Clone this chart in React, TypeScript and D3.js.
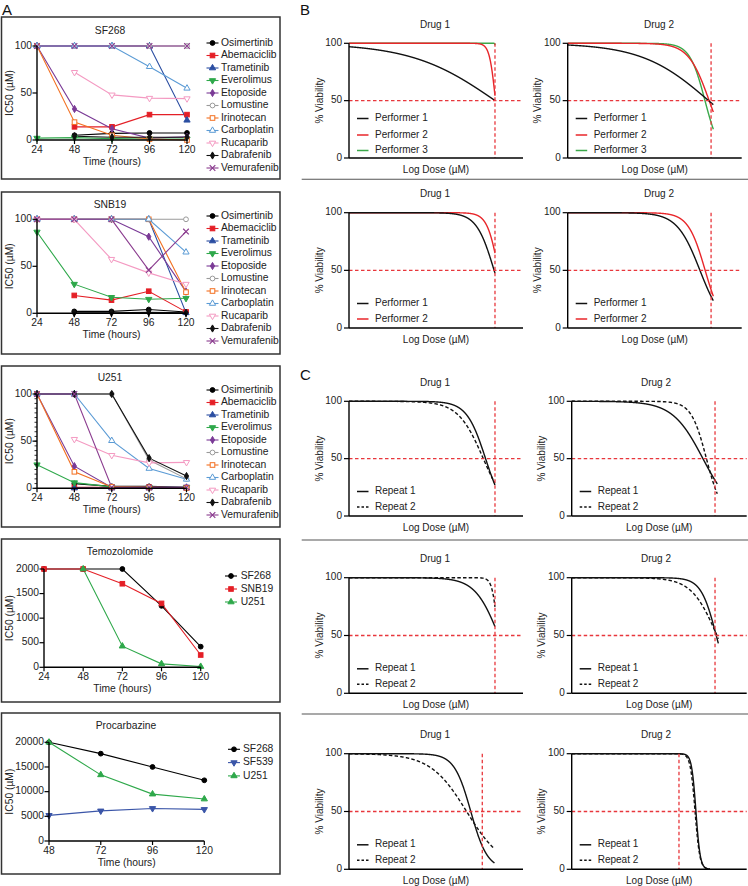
import React from 'react';
import * as d3 from 'd3';

const FONT = "'Liberation Sans', Arial, Helvetica, sans-serif";

// ---------------- Panel A data ----------------
const hours = [24, 48, 72, 96, 120];
const drugNames = ['Osimertinib', 'Abemaciclib', 'Trametinib', 'Everolimus', 'Etoposide', 'Lomustine', 'Irinotecan', 'Carboplatin', 'Rucaparib', 'Dabrafenib', 'Vemurafenib'];

const sf268IC50: (number | null)[][] = [
  [null, 5, 7, 7.5, 7.5],
  [null, 14, 14, 27, 27],
  [100, 100, 100, 100, 21],
  [2, 2.5, 1.5, 1, 1],
  [100, 33, 12, 2, 3.5],
  [100, 100, 100, 100, 100],
  [100, 19, 5, 1, 0],
  [100, 100, 100, 78, 55],
  [null, 72, 48, 44.5, 44],
  [null, 4, 3, 3, 3],
  [100, 100, 100, 100, 100],
];
const snb19IC50: (number | null)[][] = [
  [null, 2, 2, 4, 1.4],
  [null, 19, 14, 23.5, 1.5],
  [100, 100, 100, 100, 0.5],
  [86.5, 31, 17, 15, 16],
  [100, 100, 100, 81.5, 23],
  [100, 100, 100, 100, 100],
  [100, 100, 100, 100, 22.5],
  [100, 100, 100, 100, 65],
  [100, 100, 57.5, 43, 31],
  [null, 0.5, 0.5, 1, 0.5],
  [100, 100, 100, 46, 87],
];
const u251IC50: (number | null)[][] = [
  [null, 5, 2, 2, 1],
  [null, 1, 1, 1, 0.5],
  [null, 0.3, 0.3, 0.3, 0.3],
  [25, 6, 1.5, 1, 1],
  [100, 23.5, 1, 1, 1],
  [100, 100, 100, 30, 10],
  [100, 17.5, 1.5, 1, 0.5],
  [100, 100, 50.5, 21, 9.5],
  [null, 52, 35, 27, 27.5],
  [100, 100, 100, 32, 13],
  [100, 100, 1, 1, 1],
];

const temoCells = ['SF268', 'SNB19', 'U251'];
const temoIC50: (number | null)[][] = [
  [2000, 2000, 2000, 1250, 420],
  [2000, 2000, 1700, 1300, 250],
  [null, 2000, 430, 70, 15],
];

const procHours = [48, 72, 96, 120];
const procCells = ['SF268', 'SF539', 'U251'];
const procIC50: (number | null)[][] = [
  [20000, 17700, 15000, 12300],
  [5200, 6100, 6600, 6400],
  [20000, 13400, 9500, 8500],
];

// ---------------- Panel B / C data (fitted curve parameters, log-dose units 0-10) ----------------
const performerLabels = ['Performer 1', 'Performer 2', 'Performer 3'];
const repeatLabels = ['Repeat 1', 'Repeat 2'];

const bRow1Drug1LogIC50 = [8.4, 8.42, 8.45];
const bRow1Drug1Hill = [0.18, 2.5, 30];
const bRow1Drug2LogIC50 = [8.1, 8.13, 7.89];
const bRow1Drug2Hill = [0.225, 0.73, 0.99];
const bRow2Drug1LogIC50 = [8.34, 8.59];
const bRow2Drug1Hill = [0.86, 1.34];
const bRow2Drug2LogIC50 = [7.6, 7.9];
const bRow2Drug2Hill = [0.66, 0.89];
const cRow1Drug1LogIC50 = [7.85, 7.72];
const cRow1Drug1Hill = [0.8, 0.6];
const cRow1Drug2LogIC50 = [7.5, 7.7];
const cRow1Drug2Hill = [0.5, 1.0];
const cRow2Drug1LogIC50 = [8.6, 8.56];
const cRow2Drug1Hill = [0.64, 2.77];
const cRow2Drug2LogIC50 = [8.26, 8.3];
const cRow2Drug2Hill = [1.0, 0.6];
const cRow3Drug1LogIC50 = [7.0, 6.76];
const cRow3Drug1Hill = [0.91, 0.417];
const cRow3Drug2LogIC50 = [7.1, 7.05];
const cRow3Drug2Hill = [3.5, 3.2];

// highest dose tested (curve end) and marked IC50 dose (vertical line)
const bRow1MaxDose = [8.39, 8.37];
const bRow1Cutoff = [8.39, 8.24];
const bRow2MaxDose = [8.39, 8.37];
const bRow2Cutoff = [8.39, 8.24];
const cRow1MaxDose = [8.39, 8.32];
const cRow1Cutoff = [8.39, 8.19];
const cRow2MaxDose = [8.39, 8.38];
const cRow2Cutoff = [8.39, 8.19];
const cRow3MaxDose = [8.36, 7.9];
const cRow3Cutoff = [7.66, 6.13];

// ---------------- styles ----------------
type MStyle = { color: string; shape: string; open?: boolean };
const drugStyles: MStyle[] = [
  { color: '#000000', shape: 'circle' },
  { color: '#e41f26', shape: 'square' },
  { color: '#2b4ea2', shape: 'triUp' },
  { color: '#2ea84a', shape: 'triDown' },
  { color: '#7a3a96', shape: 'diamond' },
  { color: '#9a9a9a', shape: 'circle', open: true },
  { color: '#f37021', shape: 'square', open: true },
  { color: '#5b9bd5', shape: 'triUp', open: true },
  { color: '#f49ac2', shape: 'triDown', open: true },
  { color: '#111111', shape: 'diamond' },
  { color: '#8b3c8f', shape: 'x' },
];
const temoStyles: MStyle[] = [
  { color: '#000000', shape: 'circle' },
  { color: '#e41f26', shape: 'square' },
  { color: '#2ea84a', shape: 'triUp' },
];
const procStyles: MStyle[] = [
  { color: '#000000', shape: 'circle' },
  { color: '#3a55a8', shape: 'triDown' },
  { color: '#2ea84a', shape: 'triUp' },
];

const triPath = d3.symbol().type(d3.symbolTriangle).size(17)() as string;
const diaPath = d3.symbol().type(d3.symbolDiamond).size(15)() as string;

function Marker({ s, x, y }: { s: MStyle; x: number; y: number }) {
  const fill = s.open ? '#ffffff' : s.color;
  const sw = 1;
  switch (s.shape) {
    case 'circle':
      return <circle cx={x} cy={y} r={2.4} fill={fill} stroke={s.color} strokeWidth={sw} />;
    case 'square':
      return <rect x={x - 2.3} y={y - 2.3} width={4.6} height={4.6} fill={fill} stroke={s.color} strokeWidth={sw} />;
    case 'triUp':
      return <path transform={`translate(${x},${y})`} d={triPath} fill={fill} stroke={s.color} strokeWidth={sw} />;
    case 'triDown':
      return <path transform={`translate(${x},${y}) rotate(180)`} d={triPath} fill={fill} stroke={s.color} strokeWidth={sw} />;
    case 'diamond':
      return <path transform={`translate(${x},${y})`} d={diaPath} fill={fill} stroke={s.color} strokeWidth={sw} />;
    case 'x':
      return <path d={`M${x - 2.8},${y - 2.8}L${x + 2.8},${y + 2.8}M${x - 2.8},${y + 2.8}L${x + 2.8},${y - 2.8}`} stroke={s.color} strokeWidth={1.2} fill="none" />;
  }
  return null;
}

type APanelProps = {
  box: [number, number, number, number];
  title: string;
  titleX: number;
  titleY: number;
  xs: number[];
  xDomain: [number, number];
  xRange: [number, number];
  yDomain: [number, number];
  yRange: [number, number];
  yTicks: number[];
  minorStep?: number;
  names: string[];
  values: (number | null)[][];
  styles: MStyle[];
  legMarkX: number;
  legTextX: number;
  legY0: number;
  legDy: number;
};

function APanel(p: APanelProps) {
  const x = d3.scaleLinear().domain(p.xDomain).range(p.xRange);
  const y = d3.scaleLinear().domain(p.yDomain).range(p.yRange);
  const axX = p.xRange[0];
  const y0 = p.yRange[0];
  const fs = 10.3;
  const line = d3
    .line<[number, number | null]>()
    .defined((d) => d[1] != null)
    .x((d) => x(d[0]))
    .y((d) => y(d[1] as number));
  const minor = p.minorStep ? d3.range(p.yDomain[0], p.yDomain[1] + 0.001, p.minorStep) : [];
  const yMid = (p.yRange[0] + p.yRange[1]) / 2;
  return (
    <g>
      <rect x={p.box[0]} y={p.box[1]} width={p.box[2] - p.box[0]} height={p.box[3] - p.box[1]} fill="none" stroke="#333" strokeWidth={1.5} />
      <text x={p.titleX} y={p.titleY} fontSize={fs} textAnchor="middle" dominantBaseline="middle" fill="#222">{p.title}</text>
      {p.values.map((vals, i) => (
        <path key={'l' + i} d={line(p.xs.map((h, j) => [h, vals[j]] as [number, number | null])) || ''} fill="none" stroke={p.styles[i].color} strokeWidth={1.1} />
      ))}
      {p.values.map((vals, i) =>
        vals.map((v, j) => (v == null ? null : <Marker key={`m${i}-${j}`} s={p.styles[i]} x={x(p.xs[j])} y={y(v)} />))
      )}
      <line x1={axX} x2={axX} y1={p.yRange[1]} y2={y0} stroke="#000" strokeWidth={1.4} />
      <line x1={axX} x2={p.xRange[1]} y1={y0} y2={y0} stroke="#000" strokeWidth={1.4} />
      {minor.map((t, i) => (
        <line key={'mn' + i} x1={axX - 2.5} x2={axX} y1={y(t)} y2={y(t)} stroke="#000" strokeWidth={0.8} />
      ))}
      {p.yTicks.map((t) => (
        <g key={'yt' + t}>
          <line x1={axX - 4.5} x2={axX} y1={y(t)} y2={y(t)} stroke="#000" strokeWidth={1.2} />
          <text x={axX - 5} y={y(t)} fontSize={fs} textAnchor="end" dominantBaseline="middle" fill="#222">{t}</text>
        </g>
      ))}
      {p.xs.map((t) => (
        <g key={'xt' + t}>
          <line x1={x(t)} x2={x(t)} y1={y0} y2={y0 + 4} stroke="#000" strokeWidth={1.2} />
          <text x={x(t)} y={y0 + 10} fontSize={fs} textAnchor="middle" dominantBaseline="middle" fill="#222">{t}</text>
        </g>
      ))}
      <text x={(p.xRange[0] + p.xRange[1]) / 2} y={y0 + 22} fontSize={fs} textAnchor="middle" dominantBaseline="middle" fill="#222">Time (hours)</text>
      <text transform={`translate(10,${yMid}) rotate(-90)`} fontSize={fs} textAnchor="middle" dominantBaseline="middle" fill="#222">IC50 (µM)</text>
      {p.names.map((n, i) => {
        const ly = p.legY0 + i * p.legDy;
        return (
          <g key={'lg' + i}>
            <line x1={p.legMarkX - 6} x2={p.legMarkX + 6} y1={ly} y2={ly} stroke={p.styles[i].color} strokeWidth={1.1} />
            <Marker s={p.styles[i]} x={p.legMarkX} y={ly} />
            <text x={p.legTextX} y={ly} fontSize={fs} dominantBaseline="middle" fill="#222">{n}</text>
          </g>
        );
      })}
    </g>
  );
}

type DProps = {
  axisX: number;
  width: number;
  y100: number;
  y0: number;
  title: string;
  titleX: number;
  logIC50: number[];
  hill: number[];
  maxDose: number;
  cutoff: number;
  labels: string[];
  colors: string[];
  dashes: (string | undefined)[];
};

function DosePanel(p: DProps) {
  const x = d3.scaleLinear().domain([0, 10]).range([p.axisX, p.axisX + p.width]);
  const y = d3.scaleLinear().domain([0, 100]).range([p.y0, p.y100]);
  const fs = 10;
  const line = d3.line<number>().x((d) => x(d));
  const doses = d3.range(0, p.maxDose, 0.005).concat([p.maxDose]);
  const legOffsets = p.labels.length === 3 ? [-39.5, -23, -7.5] : [-24.5, -9];
  const red = '#e8373c';
  const order = p.logIC50.map((_, i) => i).reverse();
  return (
    <g>
      <text x={p.titleX} y={p.y100 - 18} fontSize={fs} textAnchor="middle" dominantBaseline="middle" fill="#222">{p.title}</text>
      {order.map((i) => {
        const c = p.logIC50[i];
        const h = p.hill[i];
        const resp = (d: number) => 100 / (1 + Math.pow(10, h * (d - c)));
        const path = line.y((d) => y(resp(d)))(doses) || '';
        return <path key={'c' + i} d={path} fill="none" stroke={p.colors[i]} strokeWidth={1.4} strokeDasharray={p.dashes[i]} />;
      })}
      <line x1={p.axisX} x2={p.axisX + p.width} y1={y(50)} y2={y(50)} stroke={red} strokeWidth={1.3} strokeDasharray="3.5,2.5" />
      <line x1={x(p.cutoff)} x2={x(p.cutoff)} y1={y(100)} y2={y(0)} stroke={red} strokeWidth={1.3} strokeDasharray="3.5,2.5" />
      <line x1={p.axisX} x2={p.axisX} y1={y(100)} y2={y(0)} stroke="#000" strokeWidth={1.4} />
      <line x1={p.axisX} x2={p.axisX + p.width} y1={y(0)} y2={y(0)} stroke="#000" strokeWidth={1.4} />
      {[0, 50, 100].map((t) => (
        <g key={'t' + t}>
          <line x1={p.axisX - 5} x2={p.axisX} y1={y(t)} y2={y(t)} stroke="#000" strokeWidth={1.2} />
          <text x={p.axisX - 7} y={y(t)} fontSize={fs} textAnchor="end" dominantBaseline="middle" fill="#222">{t}</text>
        </g>
      ))}
      <text transform={`translate(${p.axisX - 29},${(p.y0 + p.y100) / 2}) rotate(-90)`} fontSize={fs} textAnchor="middle" dominantBaseline="middle" fill="#222">% Viability</text>
      <text x={p.axisX + p.width / 2} y={p.y0 + 12} fontSize={fs} textAnchor="middle" dominantBaseline="middle" fill="#222">Log Dose (µM)</text>
      {p.labels.map((lab, i) => {
        const ly = p.y0 + legOffsets[i];
        return (
          <g key={'lg' + i}>
            <line x1={p.axisX + 8} x2={p.axisX + 19.5} y1={ly} y2={ly} stroke={p.colors[i]} strokeWidth={1.5} strokeDasharray={p.dashes[i] ? '2.5,2' : undefined} />
            <text x={p.axisX + 26} y={ly} fontSize={fs} dominantBaseline="middle" fill="#222">{lab}</text>
          </g>
        );
      })}
    </g>
  );
}

const perfColors = ['#111111', '#e8262a', '#3ba84a'];
const repColors = ['#111111', '#111111'];
const perfDash = [undefined, undefined, undefined];
const repDash = [undefined, '3.5,2.2'];

export default function App() {
  const boxX: [number, number] = [1.5, 280];
  const d1 = { axisX: 349, width: 174, titleX: 435 };
  const d2B = { axisX: 567.7, width: 174, titleX: 659 };
  const d2C = { axisX: 571.7, width: 175, titleX: 656 };
  return (
    <svg width={748} height={886} style={{ position: 'absolute', left: 0, top: 0, fontFamily: FONT }}>
      <rect x={0} y={0} width={748} height={886} fill="#ffffff" />
      <text x={2} y={15} fontSize={15} fill="#111">A</text>
      <text x={300} y={15} fontSize={15} fill="#111">B</text>
      <text x={300} y={380} fontSize={15} fill="#111">C</text>

      <APanel box={[boxX[0], 17, boxX[1], 179]} title="SF268" titleX={110} titleY={31} xs={hours} xDomain={[24, 120]} xRange={[37, 187]}
        yDomain={[0, 100]} yRange={[140, 46]} yTicks={[0, 50, 100]} names={drugNames} values={sf268IC50} styles={drugStyles}
        legMarkX={212.5} legTextX={221} legY0={43} legDy={12.5} />
      <APanel box={[boxX[0], 192, boxX[1], 354]} title="SNB19" titleX={110} titleY={205} xs={hours} xDomain={[24, 120]} xRange={[37, 186]}
        yDomain={[0, 100]} yRange={[313.3, 219.3]} yTicks={[0, 50, 100]} names={drugNames} values={snb19IC50} styles={drugStyles}
        legMarkX={212.5} legTextX={221} legY0={216} legDy={12.5} />
      <APanel box={[boxX[0], 366, boxX[1], 527]} title="U251" titleX={110} titleY={378.5} xs={hours} xDomain={[24, 120]} xRange={[37, 186.5]}
        yDomain={[0, 100]} yRange={[488.3, 394]} yTicks={[0, 50, 100]} minorStep={5} names={drugNames} values={u251IC50} styles={drugStyles}
        legMarkX={212.5} legTextX={221} legY0={390} legDy={12.5} />
      <APanel box={[boxX[0], 539, boxX[1], 702]} title="Temozolomide" titleX={120} titleY={552.7} xs={hours} xDomain={[24, 120]} xRange={[44, 200.7]}
        yDomain={[0, 2000]} yRange={[667.3, 569]} yTicks={[0, 500, 1000, 1500, 2000]} names={temoCells} values={temoIC50} styles={temoStyles}
        legMarkX={231} legTextX={240.7} legY0={576} legDy={13} />
      <APanel box={[boxX[0], 713, boxX[1], 874]} title="Procarbazine" titleX={126} titleY={726} xs={procHours} xDomain={[48, 120]} xRange={[49, 204.3]}
        yDomain={[0, 20000]} yRange={[841, 742.3]} yTicks={[0, 5000, 10000, 15000, 20000]} names={procCells} values={procIC50} styles={procStyles}
        legMarkX={234} legTextX={243} legY0={749.3} legDy={13.3} />

      {/* Panel B */}
      <DosePanel {...d1} y100={43.3} y0={158} title="Drug 1" logIC50={bRow1Drug1LogIC50} hill={bRow1Drug1Hill} maxDose={bRow1MaxDose[0]} cutoff={bRow1Cutoff[0]} labels={performerLabels} colors={perfColors} dashes={perfDash} />
      <DosePanel {...d2B} y100={43.3} y0={158} title="Drug 2" logIC50={bRow1Drug2LogIC50} hill={bRow1Drug2Hill} maxDose={bRow1MaxDose[1]} cutoff={bRow1Cutoff[1]} labels={performerLabels} colors={perfColors} dashes={perfDash} />
      <line x1={301.7} x2={748} y1={179.3} y2={179.3} stroke="#555" strokeWidth={1.1} />
      <DosePanel {...d1} y100={212.7} y0={328} title="Drug 1" logIC50={bRow2Drug1LogIC50} hill={bRow2Drug1Hill} maxDose={bRow2MaxDose[0]} cutoff={bRow2Cutoff[0]} labels={performerLabels.slice(0, 2)} colors={perfColors} dashes={perfDash} />
      <DosePanel {...d2B} y100={212.7} y0={328} title="Drug 2" logIC50={bRow2Drug2LogIC50} hill={bRow2Drug2Hill} maxDose={bRow2MaxDose[1]} cutoff={bRow2Cutoff[1]} labels={performerLabels.slice(0, 2)} colors={perfColors} dashes={perfDash} />

      {/* Panel C */}
      <DosePanel {...d1} y100={401.3} y0={516} title="Drug 1" logIC50={cRow1Drug1LogIC50} hill={cRow1Drug1Hill} maxDose={cRow1MaxDose[0]} cutoff={cRow1Cutoff[0]} labels={repeatLabels} colors={repColors} dashes={repDash} />
      <DosePanel {...d2C} y100={401.3} y0={516} title="Drug 2" logIC50={cRow1Drug2LogIC50} hill={cRow1Drug2Hill} maxDose={cRow1MaxDose[1]} cutoff={cRow1Cutoff[1]} labels={repeatLabels} colors={repColors} dashes={repDash} />
      <line x1={301.7} x2={748} y1={540} y2={540} stroke="#555" strokeWidth={1.1} />
      <DosePanel {...d1} y100={577.7} y0={693.3} title="Drug 1" logIC50={cRow2Drug1LogIC50} hill={cRow2Drug1Hill} maxDose={cRow2MaxDose[0]} cutoff={cRow2Cutoff[0]} labels={repeatLabels} colors={repColors} dashes={repDash} />
      <DosePanel {...d2C} y100={577.7} y0={693.3} title="Drug 2" logIC50={cRow2Drug2LogIC50} hill={cRow2Drug2Hill} maxDose={cRow2MaxDose[1]} cutoff={cRow2Cutoff[1]} labels={repeatLabels} colors={repColors} dashes={repDash} />
      <line x1={301.7} x2={748} y1={714} y2={714} stroke="#555" strokeWidth={1.1} />
      <DosePanel {...d1} y100={753.7} y0={869.3} title="Drug 1" logIC50={cRow3Drug1LogIC50} hill={cRow3Drug1Hill} maxDose={cRow3MaxDose[0]} cutoff={cRow3Cutoff[0]} labels={repeatLabels} colors={repColors} dashes={repDash} />
      <DosePanel {...d2C} y100={753.7} y0={869.3} title="Drug 2" logIC50={cRow3Drug2LogIC50} hill={cRow3Drug2Hill} maxDose={cRow3MaxDose[1]} cutoff={cRow3Cutoff[1]} labels={repeatLabels} colors={repColors} dashes={repDash} />
    </svg>
  );
}
